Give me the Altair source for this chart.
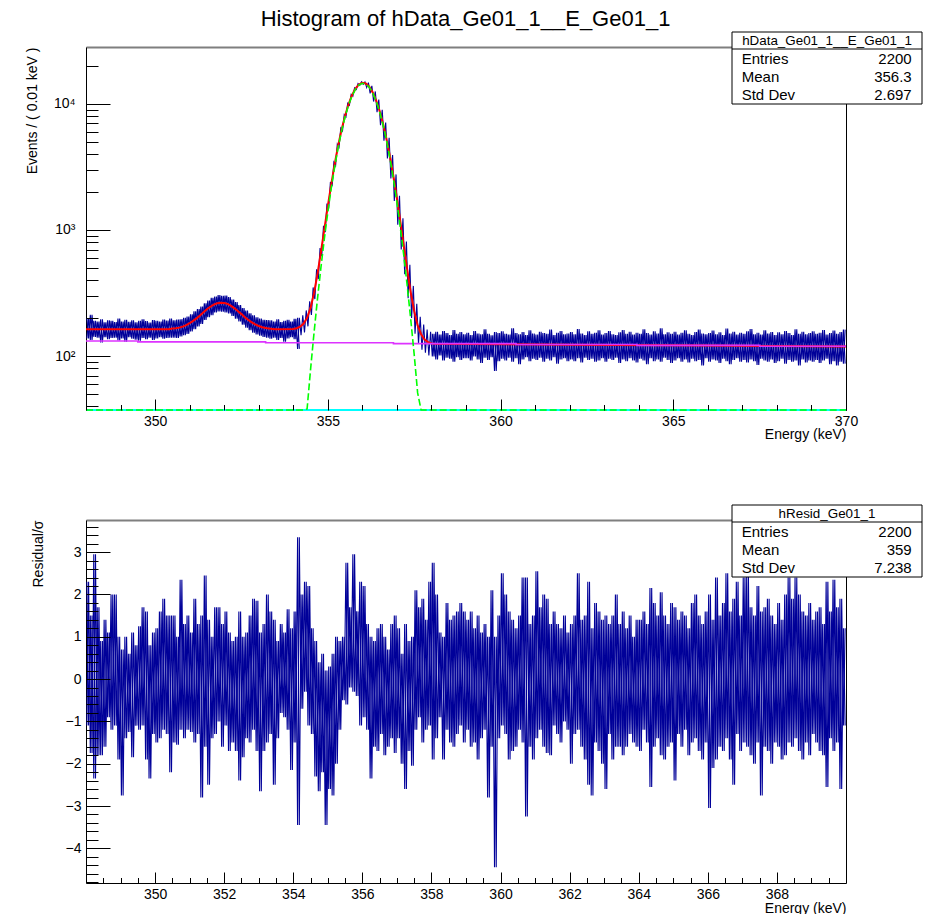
import altair as alt
import pandas as pd

# ---------------- values ----------------
X_MIN, X_MAX = 348.0, 370.0
COL_W = 0.1  # width of the columns in which the data band was read
PEAK_COLS = (62, 100)  # columns 354.2 ... 357.9 keV where the data follow the steep peak

# upper / lower extent of the data error bars in each 0.1 keV column (348.0 ... 369.9)
data_hi = [
    200, 212, 190, 188, 196, 185, 192, 190, 186, 198, 188, 194, 187, 192, 185, 190, 196, 189, 184, 193, 190, 188, 195, 191, 198,
    192, 195, 196, 201, 206, 214, 226, 236, 247, 262, 275, 290, 296, 304, 300, 302, 294, 281, 268, 254, 240, 229, 218, 210, 203, 198, 194, 193,
    192, 188, 196, 186, 190, 194, 188, 197, 201,
    210, 230, 272, 350, 488, 718, 1080, 1620, 2400, 3450, 4800, 6420, 8230, 10120, 11910, 13420, 14500, 14950, 14960, 14750,
    13920, 12570, 10850, 8970, 7110, 5400, 3930, 2760, 1870, 1240, 810, 530, 360, 260, 205, 178, 162, 156,
    150, 156, 148, 158, 152, 147, 161, 150, 155, 149,
    153, 147, 158, 151, 149, 163, 150, 146, 155, 152,
    157, 150, 148, 166, 152, 149, 155, 147, 160, 151,
    148, 156, 152, 150, 162, 147, 153, 158, 149, 151,
    155, 149, 164, 151, 147, 157, 150, 153, 160, 148,
    152, 158, 149, 147, 154, 161, 150, 156, 148, 153,
    150, 163, 152, 148, 157, 151, 166, 149, 154, 150,
    156, 148, 153, 160, 150, 147, 155, 162, 151, 149,
    152, 159, 149, 154, 147, 165, 151, 156, 148, 153,
    150, 157, 164, 149, 153, 148, 160, 151, 155, 147,
    154, 149, 158, 152, 147, 163, 150, 156, 149, 152,
    157, 150, 153, 161, 148, 152, 159, 150, 155, 162,
]
data_lo = [
    138, 134, 142, 140, 128, 141, 136, 139, 140, 133, 138, 130, 141, 137, 135, 132, 139, 136, 140, 134, 138, 141, 137, 139, 140,
    140, 139, 143, 146, 150, 157, 163, 172, 180, 193, 203, 211, 222, 226, 225, 222, 218, 208, 198, 188, 177, 168, 160, 153, 148, 145, 142, 140,
    137, 140, 134, 139, 130, 138, 141, 136, 114,
    146, 154, 172, 212, 283, 408, 620, 960, 1480, 2220, 3240, 4540, 6120, 7900, 9750, 11520, 13010, 14060, 14300, 13480,
    12140, 10450, 8610, 6780, 5110, 3690, 2560, 1700, 1100, 700, 445, 288, 200, 150, 126, 112, 106, 101,
    99, 94, 101, 92, 97, 95, 90, 98, 93, 96,
    96, 92, 99, 94, 88, 97, 93, 98, 76, 91,
    95, 92, 97, 90, 96, 86, 94, 98, 91, 95,
    93, 97, 90, 95, 92, 98, 87, 94, 96, 91,
    94, 91, 96, 89, 97, 93, 95, 90, 92, 96,
    90, 95, 93, 97, 88, 94, 91, 96, 92, 89,
    95, 92, 86, 96, 91, 94, 90, 97, 93, 88,
    92, 96, 90, 94, 89, 95, 91, 93, 84, 96,
    90, 94, 92, 88, 95, 91, 86, 93, 96, 90,
    93, 89, 94, 91, 85, 95, 92, 90, 94, 88,
    91, 95, 87, 93, 90, 92, 84, 94, 89, 92,
    90, 93, 88, 92, 95, 86, 91, 84, 90, 87,
]

# upper / lower extent of the residuals in each 0.1 keV column
resid_hi = [
    2.3, 1.5, 2.95, 1.7, 0.9, 1.4, 1.1, 2.0, 2.0, 1.0,
    0.7, 1.0, 0.6, 1.1, 0.8, 1.25, 1.7, 1.6, 0.8, 1.1,
    1.2, 1.6, 1.9, 1.5, 1.5, 1.5, 1.0, 2.35, 1.3, 1.5,
    1.1, 1.9, 1.3, 1.5, 2.45, 1.4, 1.0, 1.7, 1.7, 1.3,
    1.6, 1.1, 0.9, 1.0, 1.6, 1.0, 1.1, 1.5, 1.9, 1.85,
    1.1, 1.3, 2.0, 1.6, 1.4, 0.9, 1.3, 1.1, 1.65, 1.2,
    1.6, 3.35, 2.0, 2.3, 2.2, 1.2, 0.9, 0.4, 0.6, 0.2,
    0.3, 0.6, 1.0, 0.9, 1.0, 2.75, 1.7, 2.95, 1.6, 2.3,
    2.2, 1.3, 1.0, 0.9, 1.2, 1.3, 1.0, 0.7, 1.3, 1.5,
    1.2, 0.6, 1.3, 0.9, 1.0, 2.1, 1.7, 1.9, 1.4, 2.3,
    2.75, 2.0, 1.1, 1.0, 1.8, 1.4, 1.5, 1.6, 1.8, 1.6,
    1.4, 1.6, 1.2, 1.5, 1.1, 1.3, 1.0, 2.1, 1.0, 1.5,
    2.5, 2.0, 1.6, 1.4, 1.2, 1.5, 2.4, 2.4, 1.3, 1.5,
    2.55, 1.7, 2.0, 1.9, 1.3, 1.6, 1.3, 1.2, 1.5, 1.1,
    1.3, 1.5, 2.5, 1.4, 1.5, 2.3, 1.2, 1.8, 1.6, 1.4,
    1.5, 1.3, 1.5, 2.0, 1.3, 1.6, 1.2, 1.5, 1.0, 1.4,
    1.4, 1.6, 1.3, 2.15, 1.8, 1.5, 2.05, 1.5, 1.3, 1.8,
    1.7, 1.4, 1.6, 1.5, 1.2, 1.8, 2.0, 1.5, 1.3, 1.6,
    2.0, 1.4, 2.4, 1.5, 1.8, 2.5, 1.6, 1.9, 2.3, 1.5,
    2.4, 2.45, 1.7, 1.5, 2.2, 1.6, 1.7, 1.9, 1.5, 1.3,
    1.8, 1.4, 2.0, 2.4, 1.9, 2.4, 2.0, 1.6, 1.5, 1.8,
    1.4, 1.6, 1.7, 1.3, 2.3, 1.6, 2.35, 1.7, 1.9, 1.2,
]
resid_lo = [
    -1.1, -1.75, -2.35, -1.8, -1.8, -1.6, -0.9, -1.2, -1.1, -1.9,
    -2.75, -1.4, -1.25, -1.85, -1.1, -1.2, -1.1, -1.9, -2.35, -1.3,
    -1.5, -1.4, -1.2, -1.3, -2.2, -1.5, -1.55, -1.2, -1.4, -1.2,
    -1.25, -1.5, -1.3, -2.8, -1.6, -2.5, -1.4, -1.3, -1.0, -1.6,
    -1.1, -1.7, -1.5, -1.7, -2.4, -1.85, -1.4, -1.5, -1.2, -1.7,
    -2.65, -1.7, -1.5, -1.3, -2.5, -1.4, -0.8, -0.9, -1.2, -2.15,
    -1.5, -3.45, -0.7, -0.3, -1.1, -1.3, -2.3, -2.65, -2.2, -3.45,
    -2.6, -2.75, -2.0, -1.2, -0.5, -0.6, -0.2, -0.3, -0.4, -1.1,
    -0.9, -1.2, -2.35, -1.6, -1.7, -1.3, -1.8, -1.6, -1.4, -1.75,
    -1.4, -2.0, -2.6, -1.7, -2.05, -1.2, -0.9, -1.5, -1.2, -1.1,
    -1.9, -1.4, -0.9, -1.9, -1.2, -1.5, -1.6, -1.3, -1.1, -1.5,
    -1.2, -1.6, -1.5, -1.9, -1.4, -1.2, -2.8, -1.6, -4.45, -1.4,
    -1.1, -1.3, -1.9, -1.7, -1.6, -1.2, -1.5, -3.25, -1.6, -1.9,
    -1.4, -1.2, -1.6, -1.75, -1.8, -1.1, -1.3, -1.5, -1.0, -1.2,
    -2.0, -1.3, -1.2, -1.6, -1.9, -2.5, -2.75, -1.5, -1.7, -2.0,
    -2.6, -1.3, -1.9, -1.6, -1.6, -1.8, -1.6, -1.3, -1.5, -1.6,
    -1.7, -1.2, -1.5, -2.55, -1.6, -1.4, -1.8, -1.9, -1.6, -1.5,
    -2.4, -1.3, -1.6, -1.2, -1.8, -1.5, -1.4, -1.7, -1.9, -1.5,
    -3.05, -2.1, -1.9, -1.6, -1.7, -1.4, -1.9, -2.5, -1.3, -1.7,
    -1.5, -1.6, -1.8, -2.0, -1.5, -2.75, -1.6, -1.7, -2.0, -1.5,
    -1.6, -1.9, -1.8, -1.5, -1.6, -1.4, -1.7, -1.9, -1.5, -1.8,
    -1.3, -1.5, -1.7, -1.8, -2.55, -1.4, -1.7, -1.5, -2.6, -1.1,
]

# total fit (red)
fit_x = ([348.0, 350.4] + [round(350.5 + 0.1 * i, 1) for i in range(31)]
         + [round(354.0 + 0.1 * i, 1) for i in range(42)] + [362.0, 366.0, 370.0])
fit_y = ([163, 163]
         + [165, 166, 168, 171, 176, 182, 190, 199, 210, 222, 235, 246, 256, 262, 265, 264,
            259, 250, 239, 227, 215, 203, 193, 185, 178, 173, 169, 167, 165, 164, 163]
         + [164, 166, 171, 181, 201, 241, 315, 446, 666, 1017, 1548, 2311, 3348, 4677, 6275,
            8070, 9940, 11720, 13220, 14280, 14730, 14530, 13700, 12350, 10650, 8790, 6940,
            5250, 3808, 2655, 1785, 1166, 749, 482, 320, 227, 175, 149, 135, 129, 126, 125]
         + [123, 121, 119])

# main-peak component (green dashed); values below the axis end on the frame
peak_x = [348.0] + [round(354.0 + 0.1 * i, 1) for i in range(42)] + [370.0]
peak_y = ([0.01]
          + [1.4, 3.5, 8.1, 18, 38, 78, 152, 283, 503, 854, 1386, 2149, 3187, 4516, 6116,
             7918, 9795, 11579, 13085, 14131, 14587, 14390, 13568, 12226, 10530, 8667, 6818,
             5126, 3683, 2530, 1660, 1042, 625, 358, 196, 103, 51, 24.5, 11.2, 4.9, 2.0, 0.8]
          + [0.01])

# background component (magenta)
bkg_x = [348.0, 349.5, 353.2, 356.9, 360.45, 363.95, 367.5, 370.0]
bkg_y = [131.5, 129.5, 127.5, 125.5, 123.5, 121.5, 119.5, 119.5]

# small component (cyan dashed), far below the axis range
comp_x = [348.0, 370.0]
comp_y = [0.01, 0.01]

top_stats_title = "hData_Ge01_1__E_Ge01_1"
top_stats = [("Entries", "2200"), ("Mean", "356.3"), ("Std Dev", "2.697")]
bot_stats_title = "hResid_Ge01_1"
bot_stats = [("Entries", "2200"), ("Mean", "359"), ("Std Dev", "7.238")]

top_major_x = [350, 355, 360, 365, 370]
top_minor_x = [348, 349, 351, 352, 353, 354, 356, 357, 358, 359, 361, 362, 363, 364, 366, 367, 368, 369]
top_major_y = [100, 1000, 10000]
top_minor_y = [40, 50, 60, 70, 80, 90, 200, 300, 400, 500, 600, 700, 800, 900,
               2000, 3000, 4000, 5000, 6000, 7000, 8000, 9000, 20000]
bot_major_x = [350, 352, 354, 356, 358, 360, 362, 364, 366, 368]
bot_minor_x = [round(348.5 + 0.5 * i, 1) for i in range(43) if (348.5 + 0.5 * i) % 2 != 0]
bot_major_y = [-4, -3, -2, -1, 0, 1, 2, 3]
bot_minor_y = [round(-4.8 + 0.2 * i, 1) for i in range(43)
               if abs(round(-4.8 + 0.2 * i, 1) - round(-4.8 + 0.2 * i)) > 1e-6]

# ---------------- chart ----------------
W, H = 760, 363
FONT = "Liberation Sans"
NAVY = "#000099"

XS = alt.Scale(domain=[X_MIN, X_MAX], nice=False, zero=False)
YS_TOP = alt.Scale(type="log", domain=[37.3, 28300], nice=False, clamp=True)
YS_BOT = alt.Scale(domain=[-4.82, 3.76], nice=False, zero=False, clamp=True)


def zigzag(lo, hi, skip=None):
    """two interleaved strokes per column, going lo->hi and hi->lo"""
    xs, ys, ss = [], [], []
    for i, (l, h) in enumerate(zip(lo, hi)):
        x0 = X_MIN + COL_W * i
        xs += [x0 + 0.025, x0 + 0.075]
        ys += [l, h]
        ss += ["a", "a"]
        if skip is None or not (skip[0] <= i < skip[1]):
            part = "bL" if (skip is None or i < skip[0]) else "bR"
            xs += [x0 + 0.025, x0 + 0.075]
            ys += [h, l]
            ss += [part, part]
    return pd.DataFrame({"x": xs, "y": ys, "s": ss})


def line(df, ys, clip=True, **mk):
    enc = dict(x=alt.X("x:Q", scale=XS, axis=None), y=alt.Y("y:Q", scale=ys, axis=None))
    if "s" in df.columns:
        enc["detail"] = alt.Detail("s:N")
    return alt.Chart(df).mark_line(clip=clip, **mk).encode(**enc)


def axis_layer(ys, yval, xaxis, yaxis):
    return alt.Chart(pd.DataFrame({"x": [359.0], "y": [yval]})).mark_point(opacity=0).encode(
        x=alt.X("x:Q", scale=XS, axis=xaxis),
        y=alt.Y("y:Q", scale=ys, axis=yaxis))


def tick_axis(orient, offset, values, size):
    return alt.Axis(orient=orient, offset=offset, values=values, ticks=True, tickSize=size,
                    tickColor="black", tickWidth=1, labels=False, domain=False, title=None,
                    grid=False, zindex=1)


def frame_axes():
    xa = alt.Axis(orient="top", domain=True, domainColor="#7f7f7f", domainWidth=2, ticks=False,
                  labels=False, title=None, grid=False)
    ya = alt.Axis(orient="right", domain=True, domainColor="black", domainWidth=1, ticks=False,
                  labels=False, title=None, grid=False)
    return xa, ya


def stats(title, rows):
    base = alt.Chart(pd.DataFrame({"k": [0]}))
    layers = [
        base.mark_rect(fill="white", stroke="black", strokeWidth=1).encode(
            x=alt.value(646), x2=alt.value(836), y=alt.value(-15), y2=alt.value(57)),
        base.mark_rule(color="black", strokeWidth=1).encode(
            x=alt.value(646), x2=alt.value(836), y=alt.value(2)),
        base.mark_text(font=FONT, fontSize=13.4, align="center", baseline="alphabetic",
                       color="black").encode(x=alt.value(741), y=alt.value(-2.5), text=alt.value(title)),
    ]
    for i, (name, val) in enumerate(rows):
        yy = 17.3 + 17.8 * i
        layers.append(base.mark_text(font=FONT, fontSize=15, align="left", baseline="alphabetic",
                                     color="black").encode(x=alt.value(655.7), y=alt.value(yy), text=alt.value(name)))
        layers.append(base.mark_text(font=FONT, fontSize=15, align="right", baseline="alphabetic",
                                     color="black").encode(x=alt.value(825.7), y=alt.value(yy), text=alt.value(val)))
    # invisible anchor so both panels have the same left extent
    layers.append(base.mark_text(text=".", opacity=0, fontSize=10).encode(x=alt.value(-66), y=alt.value(100)))
    return layers


label_common = dict(labelFont=FONT, labelColor="black", labelFlush=False, labelOverlap=False,
                    titleFont=FONT, titleFontSize=14, titleFontWeight="normal", titleColor="black",
                    grid=False, zindex=0, domain=True, domainColor="black", domainWidth=1, ticks=False)

# ---- top panel
fx, fy = frame_axes()
top = alt.layer(
    axis_layer(YS_TOP, 100, fx, fy),
    line(zigzag(data_lo, data_hi, PEAK_COLS), YS_TOP, color=NAVY, strokeWidth=1.1),
    line(pd.DataFrame({"x": fit_x, "y": fit_y}), YS_TOP, color="#ff0000", strokeWidth=2),
    line(pd.DataFrame({"x": bkg_x, "y": bkg_y}), YS_TOP, color="#dd33ff", strokeWidth=1.6,
         interpolate="step-after"),
    line(pd.DataFrame({"x": comp_x, "y": comp_y}), YS_TOP, clip=False, color="#00ffff", strokeWidth=2),
    line(pd.DataFrame({"x": peak_x, "y": peak_y}), YS_TOP, clip=False, color="#00ff00", strokeWidth=1.6,
         strokeDash=[7, 3]),
    axis_layer(YS_TOP, 100,
               alt.Axis(orient="bottom", values=top_major_x, format="d", labelFontSize=14,
                        labelPadding=4, title="Energy (keV)", titleX=W, titleY=28,
                        titleAlign="right", titleBaseline="alphabetic", titleAngle=0, **label_common),
               alt.Axis(orient="left", values=top_major_y,
                        labelExpr="datum.value == 100 ? '10\u00b2' : (datum.value == 1000 ? '10\u00b3' : '10\u2074')",
                        labelFontSize=14, labelPadding=11, title="Events / ( 0.01 keV )",
                        titleX=-50, titleY=0, titleAngle=270, titleAlign="right",
                        titleBaseline="alphabetic", **label_common)),
    axis_layer(YS_TOP, 100, tick_axis("top", -H, top_major_x, 11), tick_axis("right", -W, top_major_y, 24)),
    axis_layer(YS_TOP, 100, tick_axis("top", -H, top_minor_x, 5.5), tick_axis("right", -W, top_minor_y, 12)),
    *stats(top_stats_title, top_stats),
).resolve_axis(x="independent", y="independent").properties(width=W, height=H)

# ---- residual panel
fx2, fy2 = frame_axes()
bottom = alt.layer(
    axis_layer(YS_BOT, 0, fx2, fy2),
    line(zigzag(resid_lo, resid_hi), YS_BOT, color=NAVY, strokeWidth=1.1),
    axis_layer(YS_BOT, 0,
               alt.Axis(orient="bottom", values=bot_major_x, format="d", labelFontSize=14,
                        labelPadding=4, title="Energy (keV)", titleX=W, titleY=29.5,
                        titleAlign="right", titleBaseline="alphabetic", titleAngle=0, **label_common),
               alt.Axis(orient="left", values=bot_major_y, format="d", labelFontSize=14,
                        labelPadding=5, title="Residual/\u03c3", titleX=-44, titleY=0, titleAngle=270,
                        titleAlign="right", titleBaseline="alphabetic", **label_common)),
    axis_layer(YS_BOT, 0, tick_axis("top", -H, bot_major_x, 11), tick_axis("right", -W, bot_major_y, 24)),
    axis_layer(YS_BOT, 0, tick_axis("top", -H, bot_minor_x, 5.5), tick_axis("right", -W, bot_minor_y, 12)),
    *stats(bot_stats_title, bot_stats),
).resolve_axis(x="independent", y="independent").properties(width=W, height=H)

chart = alt.vconcat(top, bottom, spacing=62).properties(
    title=alt.TitleParams("Histogram of hData_Ge01_1__E_Ge01_1", font=FONT, fontSize=22,
                          fontWeight="normal", color="black", anchor="middle", offset=0, dx=-5),
    padding={"left": 10, "top": 0, "right": 0, "bottom": 0},
).configure_view(stroke=None).configure(background="white")

chart.save("out.html", embed_options={"renderer": "svg", "actions": False})
